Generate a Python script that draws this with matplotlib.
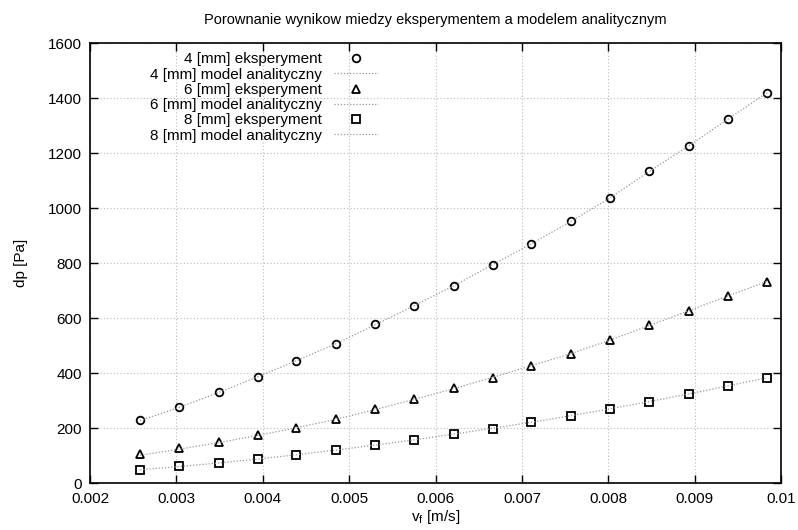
import matplotlib
matplotlib.use("Agg")
from matplotlib import pyplot as plt
from matplotlib.ticker import FormatStrFormatter

plt.rcParams['font.family'] = ['Liberation Sans', 'DejaVu Sans']

## predkosc przeplywu [m/s]
v_f = [0.00258, 0.00303, 0.00349, 0.00394, 0.00439, 0.00485, 0.00530, 0.00575,
       0.00621, 0.00666, 0.00711, 0.00757, 0.00802, 0.00847, 0.00893, 0.00938, 0.00984]

## spadek cisnienia [Pa] - pomiary
dp_4mm_exp = [230, 277, 331, 387, 445, 507, 578, 646, 717, 794, 870, 953, 1037, 1134, 1227, 1323, 1420]
dp_6mm_exp = [105, 128, 150, 174, 202, 234, 270, 305, 345, 384, 428, 470, 521, 574, 627, 681, 732]
dp_8mm_exp = [50, 62, 74, 88, 104, 121, 139, 159, 179, 199, 222, 245, 271, 296, 324, 354, 383]

## spadek cisnienia [Pa] - model analityczny
dp_4mm_model = [228, 276, 330, 387, 446, 508, 576, 646, 718, 795, 871, 953, 1038, 1133, 1227, 1323, 1421]
dp_6mm_model = [102, 124, 148, 174, 202, 233, 268, 305, 344, 385, 428, 472, 521, 573, 627, 681, 734]
dp_8mm_model = [49, 61, 74, 88, 104, 121, 139, 158, 179, 200, 222, 246, 271, 297, 325, 354, 384]

fig = plt.figure(figsize=(7.98, 5.30), dpi=100)
ax = fig.add_axes([0.1128, 0.0881, 0.866, 0.8302])

line_kw = dict(color="#999999", linestyle=(0, (1, 1.5)), linewidth=0.9)
mark_kw = dict(linestyle="none", markerfacecolor="none", markeredgecolor="black",
               markeredgewidth=1.3, markersize=5.5)

ax.plot(v_f, dp_4mm_exp, marker="o", label="4 [mm] eksperyment", **mark_kw)
ax.plot(v_f, dp_4mm_model, label="4 [mm] model analityczny", **line_kw)
ax.plot(v_f, dp_6mm_exp, marker="^", label="6 [mm] eksperyment", **mark_kw)
ax.plot(v_f, dp_6mm_model, label="6 [mm] model analityczny", **line_kw)
ax.plot(v_f, dp_8mm_exp, marker="s", label="8 [mm] eksperyment", **mark_kw)
ax.plot(v_f, dp_8mm_model, label="8 [mm] model analityczny", **line_kw)

ax.set_xlim(0.002, 0.01)
ax.set_ylim(0, 1600)
ax.set_xticks([0.002, 0.003, 0.004, 0.005, 0.006, 0.007, 0.008, 0.009, 0.01])
ax.set_yticks(range(0, 1601, 200))
ax.xaxis.set_major_formatter(FormatStrFormatter("%g"))
ax.tick_params(direction="in", top=True, right=True, length=6, width=1, labelsize=11, pad=6)
ax.grid(True, color="#bbbbbb", linestyle=(0, (1, 2)), linewidth=0.8)
for s in ax.spines.values():
    s.set_linewidth(1.2)

ax.set_title("Porownanie wynikow miedzy eksperymentem a modelem analitycznym", fontsize=10.5, pad=14)
ax.set_xlabel("v$_\\mathregular{f}$ [m/s]", fontsize=11, labelpad=2)
ax.set_ylabel("dp [Pa]", fontsize=11, labelpad=14)

leg = ax.legend(loc="upper left", bbox_to_anchor=(0.073, 1.0), frameon=False, markerfirst=False,
                fontsize=11, handlelength=2.9, handletextpad=0.8, labelspacing=0.08,
                borderaxespad=0.2)
for t in leg.get_texts():
    t.set_ha("right")

plt.savefig("out.png", dpi=100)
